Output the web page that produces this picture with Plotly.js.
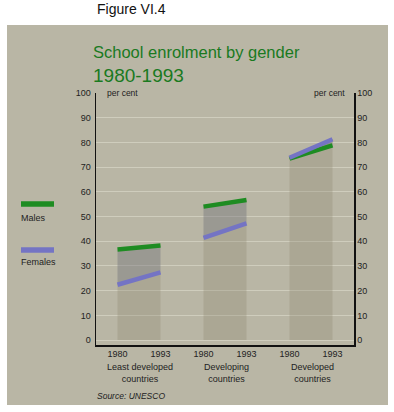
<!DOCTYPE html>
<html><head><meta charset="utf-8">
<script src="https://cdn.plot.ly/plotly-3.0.1.min.js"></script>
<style>html,body{margin:0;padding:0;background:#fff}#c{width:394px;height:412px}</style>
</head><body><div id="c"></div>
<script>
// Data
var groups = ["Least developed<br>countries", "Developing<br>countries", "Developed<br>countries"];
var years = ["1980", "1993"];
var males = [[36.7, 38.3], [54.0, 56.7], [73.4, 78.8]];
var females = [[22.4, 27.4], [41.4, 47.2], [73.8, 81.3]];
var yTicks = [0, 10, 20, 30, 40, 50, 60, 70, 80, 90, 100];

// geometry helpers (pixels -> paper)
var L = 96, R = 354, T = 93, B = 345;
function px(x){ return (x - L) / (R - L); }
function py(y){ return (B - y) / (B - T); }

var GREEN = "#1e8c22", PURPLE = "#7474c4", BAND = "rgba(140,132,110,0.3)", GREY = "rgba(118,118,124,0.45)";
var traces = [];
var tickvals = [], ticktext = [];
groups.forEach(function(g, i){
  var xs = [2*i + 0.5, 2*i + 1.5];
  tickvals.push(xs[0], xs[1]); ticktext.push(years[0], years[1]);
  traces.push({x: xs, y: females[i], mode: "lines", line: {width: 0}, fill: "tozeroy", fillcolor: BAND, hoverinfo: "skip", showlegend: false});
  traces.push({x: xs, y: males[i], mode: "lines", line: {width: 0}, fill: "tonexty", fillcolor: GREY, hoverinfo: "skip", showlegend: false});
});
groups.forEach(function(g, i){
  var xs = [2*i + 0.5, 2*i + 1.5];
  traces.push({x: xs, y: males[i], mode: "lines", line: {color: GREEN, width: 4.5}, showlegend: false});
  traces.push({x: xs, y: females[i], mode: "lines", line: {color: PURPLE, width: 4.5}, showlegend: false});
});
// right axis dummy
traces.push({x: [0], y: [0], yaxis: "y2", mode: "markers", marker: {opacity: 0}, hoverinfo: "skip", showlegend: false});

var fontF = "Liberation Sans, Arial, sans-serif";
var ann = [];
function A(text, x, y, size, color, anchor, extra){
  var o = {text: text, xref: "paper", yref: "paper", x: px(x), y: py(y), showarrow: false,
    xanchor: anchor || "left", yanchor: "middle", font: {family: fontF, size: size, color: color || "#222"}};
  if (extra) for (var k in extra) o[k] = extra[k];
  ann.push(o);
}
A("Figure VI.4", 95, 9, 14, "#111");
A("School enrolment by gender", 91, 52, 16.5, "#1a7a1f");
A("1980-1993", 91, 75, 19, "#1a7a1f");
A("per cent", 105, 93, 8.5, "#222");
A("per cent", 312, 93, 8.5, "#222");
A("Males", 19, 218, 9, "#222");
A("Females", 19, 262, 9, "#222");
A("Source: UNESCO", 95, 396, 8.5, "#222", "left", {font: {family: fontF, size: 8.5, color: "#222", style: "italic"}});
groups.forEach(function(g, i){
  A(g, 140 + 86*i, 373, 9, "#222", "center", {align: "center"});
});

var layout = {
  width: 394, height: 412,
  margin: {l: L, r: 394 - R, t: T, b: 412 - B, pad: 0},
  paper_bgcolor: "#ffffff", plot_bgcolor: "rgba(0,0,0,0)",
  font: {family: fontF, size: 9, color: "#222"},
  xaxis: {range: [0, 6], showline: true, linecolor: "#111", linewidth: 1.5, showgrid: false, zeroline: false,
    tickvals: tickvals, ticktext: ticktext, ticks: "", tickfont: {size: 9, color: "#222"}, fixedrange: true},
  yaxis: {range: [-2, 100], showline: true, linecolor: "#111", linewidth: 1.5, showgrid: true,
    gridcolor: "rgba(235,232,220,0.45)", gridwidth: 1, zeroline: false, tickvals: yTicks, ticks: "",
    tickfont: {size: 9, color: "#222"}, ticklabelstandoff: 2},
  yaxis2: {range: [-2, 100], overlaying: "y", side: "right", showline: true, linecolor: "#111", linewidth: 1.5,
    showgrid: false, zeroline: false, tickvals: yTicks, ticks: "", tickfont: {size: 9, color: "#222"}},
  shapes: [
    {type: "rect", xref: "paper", yref: "paper", x0: px(7), x1: px(388), y0: py(405), y1: py(25),
      fillcolor: "#b9b6a5", line: {width: 0}, layer: "below"},
    {type: "line", xref: "paper", yref: "paper", x0: px(21), x1: px(54), y0: py(204), y1: py(204),
      line: {color: GREEN, width: 5.5}},
    {type: "line", xref: "paper", yref: "paper", x0: px(21), x1: px(54), y0: py(250), y1: py(250),
      line: {color: PURPLE, width: 5.5}}
  ],
  annotations: ann,
  showlegend: false
};
Plotly.newPlot("c", traces, layout, {displayModeBar: false, staticPlot: true});
</script></body></html>
